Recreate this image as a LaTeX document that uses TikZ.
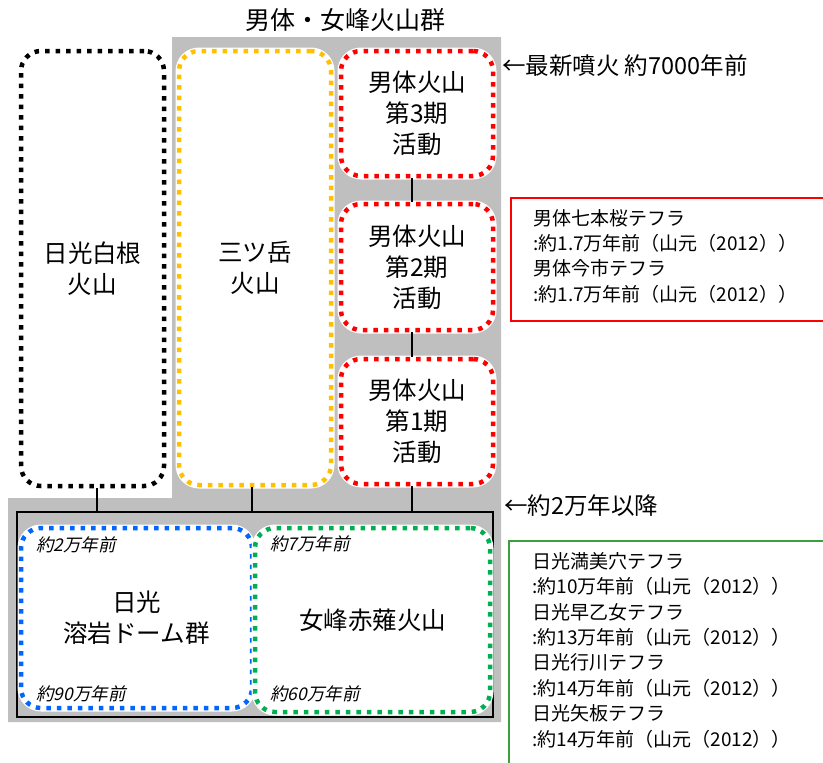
\documentclass[tikz,border=0pt]{standalone}
\usepackage{fontspec}
\setmainfont{Noto Sans CJK JP}
\newfontfamily\itfont[FakeSlant=0.22]{Noto Sans CJK JP}
\usetikzlibrary{calc}
\definecolor{grayfill}{RGB}{191,191,191}
\definecolor{myyellow}{RGB}{255,192,0}
\definecolor{myred}{RGB}{255,0,0}
\definecolor{myblue}{RGB}{0,102,255}
\definecolor{mygreen}{RGB}{0,176,80}
\definecolor{framegreen}{RGB}{60,160,60}
\tikzset{
  dotbox/.style={rectangle, rounded corners=20pt, line width=4.5pt,
    dash pattern=on 4.5pt off 6pt, fill=white,
    preaction={draw=white, line width=7pt, solid},
    align=center, inner sep=0pt, font=\fontsize{24.5}{31}\selectfont},
  conn/.style={line width=2.8pt, black},
  note/.style={anchor=west, inner sep=0pt, font=\fontsize{23.5}{27}\selectfont},
  tephra/.style={anchor=north west, inner sep=0pt, align=left, font=\fontsize{19}{25.4}\selectfont},
  agelabel/.style={anchor=west, inner sep=0pt, font=\itfont\fontsize{17.5}{19}\selectfont},
}
\begin{document}
\begin{tikzpicture}[x=1pt,y=-1pt]
\useasboundingbox (0,0) rectangle (823,763);
\clip (0,0) rectangle (823,763);
% gray background
\fill[grayfill] (172,37) -- (501,37) -- (501,722) -- (8,722) -- (8,498) -- (172,498) -- cycle;
% title
\node[inner sep=0pt, font=\fontsize{25}{29}\selectfont] (title) at (345,20) {男体・女峰火山群};
% upper boxes
\node[dotbox, draw=black, minimum width=143pt, minimum height=435pt] (shirane) at (92.5,268.5) {日光白根\\火山};
\node[dotbox, draw=myyellow, minimum width=152pt, minimum height=434pt] (mitsu) at (255,268) {三ツ岳\\火山};
\node[dotbox, draw=myred, minimum width=152pt, minimum height=125pt] (nt3) at (417,113.5) {男体火山\\第3期\\活動};
\node[dotbox, draw=myred, minimum width=152pt, minimum height=126pt] (nt2) at (417,267) {男体火山\\第2期\\活動};
\node[dotbox, draw=myred, minimum width=152pt, minimum height=125pt] (nt1) at (417,421.5) {男体火山\\第1期\\活動};
% lower frame
\node[draw=black, line width=2.2pt, rectangle, minimum width=476pt, minimum height=205pt, inner sep=0pt] (outer) at (255,614.5) {};
\node[dotbox, draw=myblue, minimum width=231pt, minimum height=180pt] (lava) at (136.5,618) {日光\\溶岩ドーム群};
\node[dotbox, draw=mygreen, minimum width=235pt, minimum height=184pt] (nyoho) at (372.5,620) {女峰赤薙火山};
% connectors
\draw[conn] ([xshift=-5pt]nt3.south) -- ([xshift=-5pt]nt2.north);
\draw[conn] ([xshift=-5pt]nt2.south) -- ([xshift=-5pt]nt1.north);
\draw[conn] ([xshift=-5pt]nt1.south) -- ([xshift=-5pt]nt1.south |- outer.north);
\draw[conn] ([xshift=-3pt]mitsu.south) -- ([xshift=-3pt]mitsu.south |- outer.north);
\draw[conn] ([xshift=4.5pt]shirane.south) -- ([xshift=4.5pt]shirane.south |- outer.north);
% age labels
\node[agelabel] (l1) at (36,545) {約2万年前};
\node[agelabel] (l2) at (36,694) {約90万年前};
\node[agelabel] (l3) at (270,544) {約7万年前};
\node[agelabel] (l4) at (270,694) {約60万年前};
% notes
\node[note] (n1) at (502,66) {←最新噴火 約7000年前};
\node[note] (n2) at (504,506) {←約2万年以降};
% tephra boxes
\draw[myred, line width=2pt] (840,198) -- (511,198) -- (511,321) -- (840,321);
\node[tephra] (t1) at (533,209) {男体七本桜テフラ\\:約1.7万年前（山元（2012））\\男体今市テフラ\\:約1.7万年前（山元（2012））};
\draw[framegreen, line width=2pt] (840,541) -- (509,541) -- (509,780);
\node[tephra] (t2) at (532,552) {日光満美穴テフラ\\:約10万年前（山元（2012））\\日光早乙女テフラ\\:約13万年前（山元（2012））\\日光行川テフラ\\:約14万年前（山元（2012））\\日光矢板テフラ\\:約14万年前（山元（2012））};
\end{tikzpicture}
\end{document}
